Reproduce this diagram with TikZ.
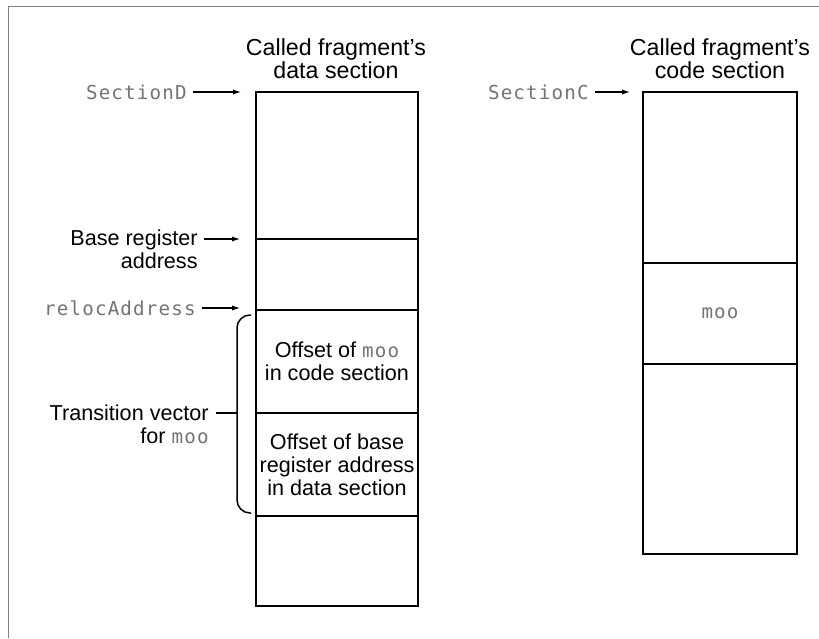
\documentclass[tikz,border=0pt]{standalone}
\usepackage{fontspec}
\setmainfont{Liberation Sans}
\newfontfamily\codefont[LetterSpace=6]{DejaVu Sans Mono}
\usetikzlibrary{arrows.meta}

\colorlet{codegray}{black!55}
\newcommand{\ident}[1]{{\codefont\fontsize{9.6}{11.5}\selectfont\color{codegray}#1}}

\tikzset{
  txt/.style={font=\fontsize{10.8}{11.5}\selectfont, align=center, inner sep=0pt},
  title/.style={font=\fontsize{11.6}{11.3}\selectfont, align=center, inner sep=0pt},
  ptr/.style={-{Latex[length=4pt,width=2.6pt]}, line width=0.55pt, shorten <=3pt},
  cell/.style={line width=0.75pt}
}

\begin{document}
\begin{tikzpicture}[x=0.5pt,y=-0.5pt]
\useasboundingbox (0,0) rectangle (819,638);
\draw[line width=0.6pt, black!50] (8.5,638) -- (8.5,6.5) -- (819,6.5);

% Data section of the called fragment
\draw[cell] (256,92) rectangle (418,606);
\foreach \y in {239,310,413,516}
  \draw[cell] (256,\y) -- (418,\y);
\node[title] (dataTitle) at (336,58.5) {Called fragment's\\data section};
\node[txt] (offMoo) at (337,361) {Offset of \ident{moo}\\in code section};
\node[txt] (offBase) at (337,465) {Offset of base\\register address\\in data section};

% Code section of the called fragment
\draw[cell] (643,92) rectangle (797,554);
\foreach \y in {263,364}
  \draw[cell] (643,\y) -- (797,\y);
\node[title] (codeTitle) at (720,58.5) {Called fragment's\\code section};
\node[txt] (moo) at (720,313.5) {\ident{moo}};

% Pointers into the sections
\coordinate (secDTip) at (241,92);
\coordinate (secCTip) at (630,92);
\coordinate (baseTip) at (240,239);
\coordinate (relocTip) at (240,308);

\node[txt, anchor=east] (secD) at (187,92) {\ident{SectionD}};
\node[txt, anchor=east] (secC) at (589,92) {\ident{SectionC}};
\node[txt, anchor=east, align=right] (baseReg) at (198,249) {Base register\\address};
\node[txt, anchor=east] (reloc) at (196,308) {\ident{relocAddress}};

\draw[ptr] (secD.east) -- (secDTip);
\draw[ptr] (secC.east) -- (secCTip);
\draw[ptr] (baseReg.east |- baseTip) -- (baseTip);
\draw[ptr] (reloc.east) -- (relocTip);

% Transition vector bracket
\draw[cell, rounded corners=6.5pt] (251,315) -- (237,315) -- (237,513) -- (251,513);
\coordinate (braceTip) at (237,413);
\node[txt, anchor=east, align=right] (tvec) at (209,424) {Transition vector\\for \ident{moo}};
\draw[line width=0.55pt, shorten <=3.5pt] (tvec.east |- braceTip) -- (braceTip);

\end{tikzpicture}
\end{document}
